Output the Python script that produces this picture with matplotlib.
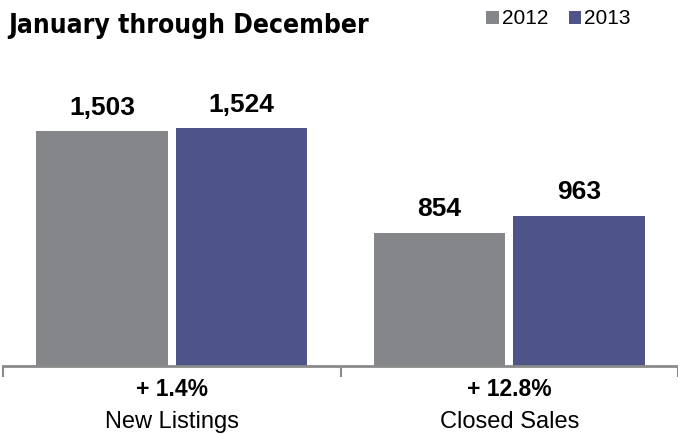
import numpy as np
import matplotlib.pyplot as plt

categories = ['New Listings', 'Closed Sales']
years = ['2012', '2013']
vals_2012 = [1503, 854]
vals_2013 = [1524, 963]
changes = ['+ 1.4%', '+ 12.8%']

gray = '#858689'
blue = '#4e5488'

plt.rcParams['font.family'] = ['Liberation Sans', 'DejaVu Sans']

fig = plt.figure(figsize=(6.78, 4.34), dpi=100)
W, H = 678, 434
# axes box in pixel terms: baseline at y=366, top at y=60
ax = fig.add_axes([3 / W, (H - 366) / H, 675 / W, 306 / H])

x = np.arange(len(categories))
w = 0.39
off = 0.207
ax.bar(x - off, vals_2012, width=w, color=gray, label=years[0])
ax.bar(x + off, vals_2013, width=w, color=blue, label=years[1])

# value labels above each bar
for xi, v in zip(x - off, vals_2012):
    ax.annotate(f'{v:,}', (xi, v), xytext=(0, 8), textcoords='offset points',
                ha='center', va='bottom', fontsize=19, fontweight='bold')
for xi, v in zip(x + off, vals_2013):
    ax.annotate(f'{v:,}', (xi, v), xytext=(0, 8), textcoords='offset points',
                ha='center', va='bottom', fontsize=19, fontweight='bold')

ax.set_xlim(-0.5, 1.5)
ax.set_ylim(0, 1958)
for s in ['top', 'right', 'left']:
    ax.spines[s].set_visible(False)
ax.spines['bottom'].set_color('#8a8a8a')
ax.spines['bottom'].set_linewidth(2)
ax.set_yticks([])
ax.set_xticks([-0.5, 0.5, 1.5])
ax.set_xticklabels([])
ax.tick_params(axis='x', length=8, width=1.5, color='#8a8a8a', direction='out')

# percent change + category name under each group
for xi, c, cat in zip(x, changes, categories):
    ax.text(xi, -0.076, c, transform=ax.get_xaxis_transform(), ha='center', va='center',
            fontsize=16.5, fontweight='bold')
    ax.text(xi, -0.182, cat, transform=ax.get_xaxis_transform(), ha='center', va='center',
            fontsize=17)

fig.text(8 / W, 1 - 33 / H, 'January through December', ha='left', va='baseline',
         fontsize=19, fontweight='bold', fontstretch='condensed', family='DejaVu Sans')

leg = fig.legend(loc='center left', bbox_to_anchor=(486 / W, 1 - 19 / H), ncol=2, frameon=False,
                 fontsize=15, handlelength=0.6, handleheight=0.6, handletextpad=0.15,
                 columnspacing=1.0, borderpad=0, borderaxespad=0)

fig.savefig('out.png', dpi=100)
